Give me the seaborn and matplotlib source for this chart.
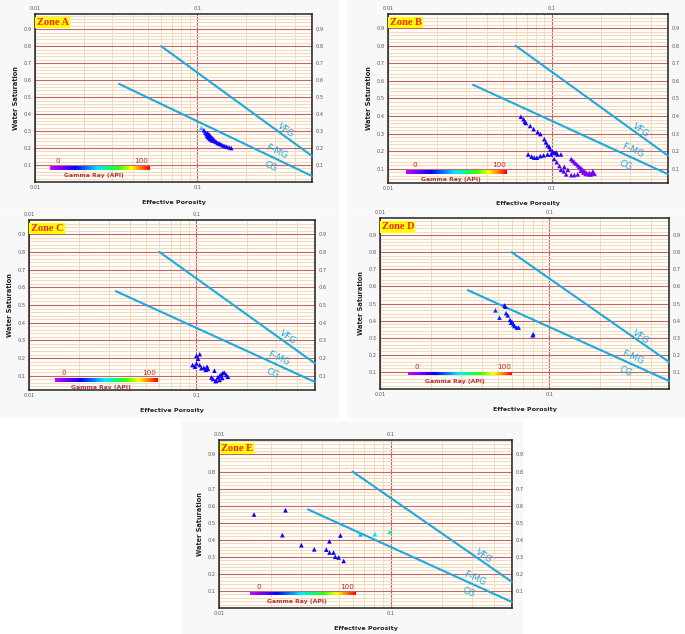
import math

import matplotlib
matplotlib.use("Agg")
import matplotlib.pyplot as plt
import matplotlib.colors as mcolors
from matplotlib.cm import ScalarMappable
from matplotlib.patches import Rectangle
import numpy as np
import pandas as pd
import seaborn as sns

# ---------------------------------
# Data
# ---------------------------------

zone_a_phi = [0.106, 0.110, 0.112, 0.114, 0.115, 0.116, 0.117, 0.118, 0.119, 0.120,
              0.121, 0.122, 0.123, 0.124, 0.125, 0.127, 0.129, 0.131, 0.134, 0.137,
              0.140, 0.144, 0.148, 0.152, 0.157, 0.162]
zone_a_sw = [0.318, 0.305, 0.292, 0.283, 0.272, 0.288, 0.266, 0.260, 0.278, 0.254,
             0.268, 0.250, 0.262, 0.244, 0.256, 0.246, 0.240, 0.236, 0.230, 0.226,
             0.222, 0.216, 0.212, 0.208, 0.204, 0.200]
zone_a_gr = [45, 20, 22, 24, 23, 25, 22, 24, 26, 23,
             24, 22, 25, 23, 24, 22, 24, 23, 22, 24,
             23, 22, 24, 23, 22, 24]

zone_b_phi = [0.0646, 0.0671, 0.0684, 0.0693, 0.0736, 0.0773, 0.0818, 0.0849, 0.0898, 0.0919,
              0.094, 0.0964, 0.0977, 0.101, 0.1033, 0.106, 0.108, 0.1135,
              0.0716, 0.0751, 0.078, 0.081, 0.0849, 0.089, 0.094, 0.0986,
              0.1033, 0.107, 0.111, 0.1135, 0.118, 0.122,
              0.131, 0.134, 0.137, 0.140, 0.1436, 0.147, 0.1506, 0.154, 0.158, 0.1616,
              0.169, 0.1775, 0.1816, 0.1436, 0.137, 0.131, 0.125, 0.119,
              0.165, 0.172, 0.176, 0.150, 0.155, 0.160]
zone_b_sw = [0.396, 0.382, 0.368, 0.361, 0.344, 0.326, 0.309, 0.298, 0.269, 0.251,
             0.234, 0.225, 0.211, 0.199, 0.190, 0.194, 0.182, 0.182,
             0.182, 0.170, 0.164, 0.164, 0.173, 0.177, 0.182, 0.182,
             0.156, 0.138, 0.117, 0.095, 0.086, 0.069,
             0.156, 0.147, 0.138, 0.130, 0.121, 0.112, 0.104, 0.095, 0.086, 0.078,
             0.078, 0.086, 0.072, 0.069, 0.065, 0.065, 0.095, 0.112,
             0.070, 0.068, 0.075, 0.090, 0.080, 0.072]
zone_b_gr = [24, 23, 25, 24, 22, 24, 23, 25, 22, 24,
             23, 25, 22, 24, 23, 22, 24, 20,
             25, 24, 26, 24, 25, 23, 24, 22,
             18, 17, 16, 18, 16, 15,
             14, 12, 13, 12, 11, 13, 12, 10, 12, 11,
             10, 12, 11, 13, 14, 15, 16, 15,
             10, 11, 12, 12, 11, 10]

zone_c_phi = [0.100, 0.1046, 0.1023, 0.0947, 0.0978, 0.100, 0.1046, 0.107, 0.1105, 0.1135,
              0.117, 0.1156, 0.128, 0.1227, 0.1256, 0.1313, 0.134, 0.1374, 0.1406, 0.144,
              0.147, 0.1506, 0.154, 0.1425, 0.130, 0.1374]
zone_c_sw = [0.213, 0.222, 0.196, 0.161, 0.152, 0.170, 0.161, 0.143, 0.146, 0.134,
             0.139, 0.152, 0.129, 0.091, 0.082, 0.073, 0.091, 0.100, 0.108, 0.117,
             0.117, 0.105, 0.095, 0.088, 0.070, 0.077]
zone_c_gr = [24, 22, 23, 25, 24, 23, 22, 24, 23, 25,
             24, 23, 26, 24, 23, 22, 24, 25, 23, 24,
             22, 23, 24, 25, 23, 22]

zone_d_phi = [0.0481, 0.0544, 0.0551, 0.0508, 0.0556, 0.0569, 0.0587, 0.0595, 0.0614, 0.0623,
              0.0643, 0.066, 0.0603, 0.0798, 0.0805]
zone_d_sw = [0.460, 0.489, 0.481, 0.417, 0.443, 0.431, 0.404, 0.388, 0.378, 0.368,
             0.359, 0.359, 0.392, 0.314, 0.320]
zone_d_gr = [30, 27, 26, 30, 28, 27, 26, 27, 28, 26,
             27, 28, 26, 27, 28]

zone_e_phi = [0.016, 0.0244, 0.0234, 0.0302, 0.0359, 0.0422, 0.044, 0.0441, 0.0465, 0.0476,
              0.0498, 0.051, 0.0533, 0.0667, 0.081, 0.099]
zone_e_sw = [0.548, 0.573, 0.427, 0.368, 0.344, 0.342, 0.391, 0.325, 0.325, 0.300,
             0.296, 0.425, 0.276, 0.431, 0.433, 0.446]
zone_e_gr = [26, 25, 24, 25, 24, 25, 24, 25, 24, 25,
             24, 25, 24, 44, 48, 55]

zone_names = ["Zone A", "Zone B", "Zone C", "Zone D", "Zone E"]
zone_ylims = [(0.0, 0.99), (0.055, 0.935), (0.057, 0.943), (0.0, 1.0), (0.0, 0.985)]

# grain-size lines (start point shared, end read at the right edge)
vfg_start = (0.06, 0.80)
cg_start = (0.033, 0.578)
vfg_end_sw = [0.153, 0.175, 0.170, 0.158, 0.153]
cg_end_sw = [0.035, 0.070, 0.065, 0.047, 0.035]

X_MIN, X_MAX = 0.01, 0.51

# ---------------------------------
# Style
# ---------------------------------

sns.set_style("white")
plt.rcParams["font.family"] = ["DejaVu Sans"]

gr_cmap = mcolors.LinearSegmentedColormap.from_list(
    "gamma",
    [(0.0, "#cc00ff"), (0.12, "#7000ff"), (0.25, "#0000ff"), (0.38, "#0080ff"),
     (0.48, "#00e8ff"), (0.6, "#00ff70"), (0.7, "#40ff00"), (0.82, "#ffff00"),
     (0.9, "#ff9000"), (1.0, "#ff0000")],
)
gr_norm = mcolors.Normalize(0, 100)

LINE_BLUE = "#1ea8e0"

fig = plt.figure(figsize=(6.85, 6.34), dpi=100)
W, H = 685, 634

# faint grey panel backdrops
for (x0, y0, x1, y1) in [(0, 0, 338, 207), (347, 0, 685, 207), (0, 209, 338, 417),
                         (347, 209, 685, 417), (182, 421, 522, 634)]:
    fig.patches.append(Rectangle((x0 / W, 1 - y1 / H), (x1 - x0) / W, (y1 - y0) / H,
                                 transform=fig.transFigure, color="#f8f8f8", zorder=-10))

# plot-area boxes in pixels: left, top, right, bottom
boxes = [(35, 14, 312, 182), (388, 14, 668, 183), (29, 220, 315, 390),
         (380, 218, 669, 389), (219, 440, 512, 608)]

# gamma-ray bar position in axes fraction
bar_pos = [(0.054, 0.073), (0.065, 0.056), (0.09, 0.048), (0.098, 0.079), (0.107, 0.076)]

datasets = [
    (zone_a_phi, zone_a_sw, zone_a_gr),
    (zone_b_phi, zone_b_sw, zone_b_gr),
    (zone_c_phi, zone_c_sw, zone_c_gr),
    (zone_d_phi, zone_d_sw, zone_d_gr),
    (zone_e_phi, zone_e_sw, zone_e_gr),
]


def line_angle(ax, p1, p2):
    a = ax.transData.transform(p1)
    b = ax.transData.transform(p2)
    return math.degrees(math.atan2(b[1] - a[1], b[0] - a[0]))


def sw_on_line(p1, p2, x):
    t = (math.log10(x) - math.log10(p1[0])) / (math.log10(p2[0]) - math.log10(p1[0]))
    return p1[1] + t * (p2[1] - p1[1])


for i, (phi, sw, gr) in enumerate(datasets):

    left, top, right, bottom = boxes[i]
    ax = fig.add_axes([left / W, 1 - bottom / H, (right - left) / W, (bottom - top) / H])
    ax.set_facecolor("#fffdfa")

    # points
    df = pd.DataFrame({"phi": phi, "sw": sw, "gr": gr})
    sns.scatterplot(data=df, x="phi", y="sw", hue="gr", palette=gr_cmap, hue_norm=gr_norm,
                    marker="^", s=11, linewidth=0, legend=False, ax=ax, zorder=4)

    ax.set_xscale("log")
    ax.set_xlim(X_MIN, X_MAX)
    ax.set_ylim(*zone_ylims[i])

    # grid
    ax.set_xticks([0.01, 0.1])
    ax.set_xticks([k * 0.01 for k in range(2, 10)] + [k * 0.1 for k in range(2, 6)], minor=True)
    ax.set_xticklabels(["0.01", "0.1"])
    ax.set_xticklabels([], minor=True)
    ax.set_yticks([k / 10 for k in range(1, 10)])
    ax.set_yticks([k / 50 for k in range(1, 50) if k % 5 != 0], minor=True)
    ax.set_yticklabels([f"{k / 10:.1f}" for k in range(1, 10)])

    ax.grid(which="minor", axis="both", color="#f2d9bb", linewidth=0.7)
    ax.grid(which="major", axis="both", color="#c06868", linewidth=0.8)
    ax.set_axisbelow(True)

    ax.tick_params(which="both", length=0, labelsize=3.6, labelcolor="#555555", pad=2.5,
                   top=True, right=True, labeltop=True, labelright=True)

    for spine in ax.spines.values():
        spine.set_color("#222222")
        spine.set_linewidth(1.1)

    ax.set_xlabel("Effective Porosity", fontsize=4.6, fontweight="bold", labelpad=7)
    ax.set_ylabel("Water Saturation", fontsize=4.8, fontweight="bold", labelpad=3)

    # grain-size lines
    vfg_end = (X_MAX, vfg_end_sw[i])
    cg_end = (X_MAX, cg_end_sw[i])
    ax.plot([vfg_start[0], vfg_end[0]], [vfg_start[1], vfg_end[1]], color=LINE_BLUE, lw=1.5,
            zorder=3, clip_on=False)
    ax.plot([cg_start[0], cg_end[0]], [cg_start[1], cg_end[1]], color=LINE_BLUE, lw=1.5,
            zorder=3, clip_on=False)

    ang_v = line_angle(ax, vfg_start, vfg_end)
    ang_c = line_angle(ax, cg_start, cg_end)
    ax.text(0.35, sw_on_line(vfg_start, vfg_end, 0.35) + 0.035, "VFG", color=LINE_BLUE,
            fontsize=6.5, rotation=ang_v, ha="center", va="center", rotation_mode="anchor")
    ax.text(0.31, sw_on_line(cg_start, cg_end, 0.31) + 0.042, "F-MG", color=LINE_BLUE,
            fontsize=6.5, rotation=ang_c, ha="center", va="center", rotation_mode="anchor")
    ax.text(0.283, sw_on_line(cg_start, cg_end, 0.283) - 0.06, "CG", color=LINE_BLUE,
            fontsize=6.5, rotation=ang_c, ha="center", va="center", rotation_mode="anchor")

    # zone tag
    ax.text(0.006, 0.975, zone_names[i], transform=ax.transAxes, ha="left", va="top",
            fontsize=7.5, fontweight="bold", family="Liberation Serif", color="#ff2020",
            bbox=dict(boxstyle="square,pad=0.12", facecolor="#ffff00", edgecolor="none"),
            zorder=6)

    # gamma-ray colour bar
    bx, by = bar_pos[i]
    cax = ax.inset_axes([bx, by, 0.36, 0.02])
    cb = fig.colorbar(ScalarMappable(norm=gr_norm, cmap=gr_cmap), cax=cax,
                      orientation="horizontal")
    cb.outline.set_visible(False)
    cax.set_axis_off()
    ax.text(bx + 0.03, by + 0.05, "0", transform=ax.transAxes, ha="center", va="center",
            fontsize=5.2, color="#c62828", zorder=6)
    ax.text(bx + 0.33, by + 0.05, "100", transform=ax.transAxes, ha="center", va="center",
            fontsize=5.2, color="#c62828", zorder=6)
    ax.text(bx + 0.16, by - 0.035, "Gamma Ray (API)", transform=ax.transAxes, ha="center",
            va="center", fontsize=4.4, fontweight="bold", color="#b83030", zorder=6)

plt.savefig("out.png", dpi=100)
plt.close()
